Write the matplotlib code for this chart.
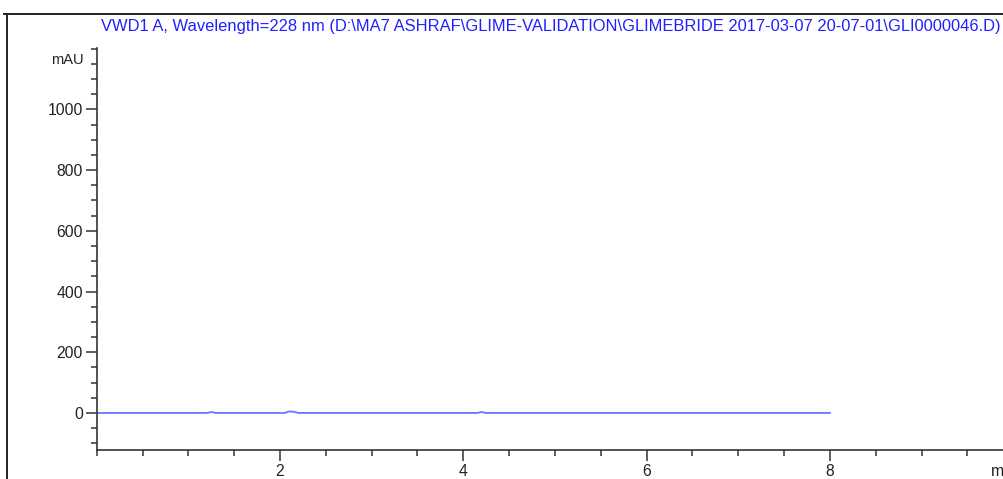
import numpy as np
import matplotlib.pyplot as plt
from matplotlib.lines import Line2D
from matplotlib.ticker import MultipleLocator

plt.rcParams['font.family'] = ['Liberation Sans', 'DejaVu Sans']

# chromatogram points (min, mAU)
time_min = [0.0, 1.20, 1.25, 1.30, 2.05, 2.10, 2.15, 2.20, 4.15, 4.20, 4.25, 8.0]
signal_mau = [0.0, 0.0, 3.0, 0.0, 0.0, 5.0, 4.0, 0.0, 0.0, 3.0, 0.0, 0.0]

y_major = [0, 200, 400, 600, 800, 1000]
x_major = [2, 4, 6, 8]

title = ('VWD1 A, Wavelength=228 nm (D:\\MA7 ASHRAF\\GLIME-VALIDATION\\'
         'GLIMEBRIDE 2017-03-07 20-07-01\\GLI0000046.D)')

W, H = 1004, 479
fig = plt.figure(figsize=(W / 100, H / 100), dpi=100)

# outer frame (top + left)
fig.add_artist(Line2D([4 / W, 1.0], [1 - 14 / H, 1 - 14 / H], color='#222222', lw=1.4))
fig.add_artist(Line2D([7.5 / W, 7.5 / W], [1 - 14 / H, 0], color='#222222', lw=1.4))

fig.text(551 / W, 1 - 26 / H, title, color='#2020ff', fontsize=11.9,
         ha='center', va='center')

left, right = 96.7, 96.7 + 10.2 * 91.65
top, bottom = 48, 450
ax = fig.add_axes([left / W, 1 - bottom / H, (right - left) / W, (bottom - top) / H])

ax.plot(time_min, signal_mau, color='#7070ff', lw=1.3)

ax.set_xlim(0, 10.2)
ax.set_ylim(-122, 1202)

for s in ['top', 'right']:
    ax.spines[s].set_visible(False)
for s in ['left', 'bottom']:
    ax.spines[s].set_color('#333333')
    ax.spines[s].set_linewidth(1.2)

ax.set_xticks(x_major)
ax.set_xticklabels([str(v) for v in x_major])
ax.set_yticks(y_major)
ax.set_yticklabels([str(v) for v in y_major])
ax.xaxis.set_minor_locator(MultipleLocator(0.5))
ax.yaxis.set_minor_locator(MultipleLocator(50))
ax.tick_params(which='major', length=8, width=1.1, color='#333333',
               labelsize=11.3, labelcolor='#222222', pad=2)
ax.tick_params(which='minor', length=4, width=1.1, color='#333333')

fig.text(84 / W, 1 - 60 / H, 'mAU', fontsize=10.5, color='#222222',
         ha='right', va='center')
# x unit label, cut at the right edge as in the original printout
fig.text(991 / W, 1 - 471 / H, 'min', fontsize=11.3, color='#222222',
         ha='left', va='center')

fig.savefig('out.png', dpi=100)
